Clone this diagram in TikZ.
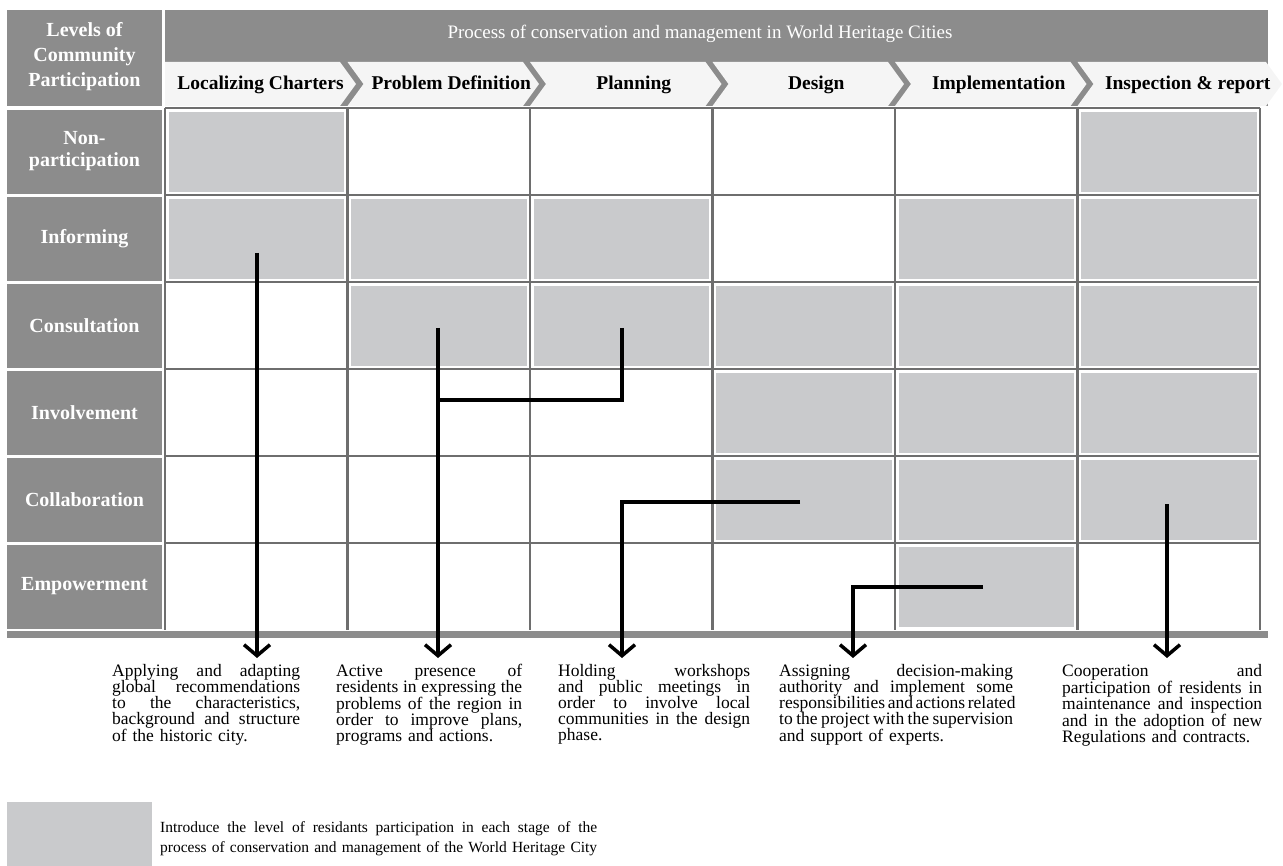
\documentclass[tikz,border=0pt]{standalone}
\usepackage{fontspec}
\setmainfont{Liberation Serif}
\usetikzlibrary{arrows.meta}
\usetikzlibrary{positioning}
\definecolor{hdrgray}{HTML}{8C8C8C}
\definecolor{linegray}{HTML}{6E6E6E}
\definecolor{cellgray}{HTML}{C9CACC}
\definecolor{chevfill}{HTML}{F5F5F5}
% justified line and last line of a note
\newcommand{\jl}[1]{\leavevmode\hbox to \hsize{\spaceskip=0.25em plus 1fil minus 0.1em\relax #1}\par}
\newcommand{\lastln}[1]{\leavevmode\hbox{#1}\par}
\tikzset{
levelbox/.style={ % Sets the labels of the participation levels
text=white,
font=\bfseries\fontsize{20}{22}\selectfont,
align=center},
stage/.style={ % Chevron labels
font=\bfseries\fontsize{19.5}{22}\selectfont,
anchor=base},
cell/.style={fill=cellgray, draw=white, line width=0.8pt},
gridline/.style={draw=linegray, line width=2.5pt},
link/.style={draw, line width=3.5pt},
flow/.style={ % Arrows down to the notes
link,
-{Straight Barb[length=11pt,width=26pt]}},
note/.style={anchor=north west, inner sep=0pt, align=left,
font=\fontsize{17.5}{16}\selectfont}}

\begin{document}
\begin{tikzpicture}[x=1pt, y=-1pt]
	\useasboundingbox (0,0) rectangle (1283,866);
	% header
	\fill[hdrgray] (7,10) rectangle (162,106);
	\fill[hdrgray] (165,10) rectangle (1268,106);
	\node[levelbox, font=\bfseries\fontsize{20}{25}\selectfont] (levels) at (84.5,57) {Levels of\\Community\\Participation};
	\node[text=white, font=\fontsize{19}{21}\selectfont] (title) at (700,34) {Process of conservation and management in World Heritage Cities};
	\foreach \xl/\xr/\nd/\txt [count=\i] in {165/340/0/Localizing Charters, 347.5/523/16/Problem Definition, 530/705.5/16/Planning, 712.5/888/16/Design, 895/1070.5/16/Implementation, 1077.5/1266/16/Inspection \& report}{
		\fill[chevfill] (\xl,62) -- (\xr,62) -- (\xr+16,84) -- (\xr,106) -- (\xl,106) -- (\xl+\nd,84) -- cycle;
		\node[stage] (s\i) at ({(\xl+\nd+\xr+16)/2},89.5) {\txt};
	}
	% levels of participation
	\foreach \lab [count=\i] in {{Non-\\participation}, Informing, Consultation, Involvement, Collaboration, Empowerment}{
		\fill[hdrgray] (7,{108+(\i-1)*87+2}) rectangle (162,{108+\i*87-1});
		\node[levelbox] (lv\i) at (84.5,{108+(\i-1)*87+43.5}) {\lab};
	}
	% shaded cells
	\foreach \r/\c in {1/1,1/6,2/1,2/2,2/3,2/5,2/6,3/2,3/3,3/4,3/5,3/6,4/4,4/5,4/6,5/4,5/5,5/6,6/5}
		\draw[cell] ({165+(\c-1)*182.5+3},{108+(\r-1)*87+3}) rectangle ++(176.5,81);
	\foreach \i in {0,...,6}
		\draw[gridline] ({165+\i*182.5},108) -- ++(0,522);
	\foreach \j in {0,...,5}
		\draw[gridline] (165,{108+\j*87}) -- (1260,{108+\j*87});
	\fill[hdrgray] (7,631) rectangle (1268,638);
	% arrows
	\coordinate (p1) at (257,253);
	\coordinate (p2) at (438,328);
	\coordinate (p3) at (622,328);
	\coordinate (p4) at (800,502);
	\coordinate (p5) at (983,587);
	\coordinate (p6) at (1167,504);
	\coordinate (j2) at (438,400);
	\coordinate (j3) at (622,400);
	\coordinate (e1) at (257,658);
	\coordinate (e2) at (438,658);
	\coordinate (e3) at (622,658);
	\coordinate (e4) at (853,658);
	\coordinate (e5) at (1167,658);
	\draw[flow] (p1) -- (e1);
	\draw[flow] (p2) -- (e2);
	\draw[link] (p3) -- (j3) -- (j2);
	\draw[flow] (p4) -| (e3);
	\draw[flow] (p5) -| (e4);
	\draw[flow] (p6) -- (e5);
	% notes
	\node[note, text width=188pt] (t1) at (112,664) {\jl{Applying and adapting}\jl{global recommendations}\jl{to the characteristics,}\jl{background and structure}\lastln{of the historic city.}};
	\node[note, text width=186pt] (t2) at (336,664) {\jl{Active presence of}\jl{residents in expressing the}\jl{problems of the region in}\jl{order to improve plans,}\lastln{programs and actions.}};
	\node[note, text width=192pt] (t3) at (558,664) {\jl{Holding workshops}\jl{and public meetings in}\jl{order to involve local}\jl{communities in the design}\lastln{phase.}};
	\node[note, text width=234pt] (t4) at (779,664) {\jl{Assigning decision-making}\jl{authority and implement some}\jl{responsibilities and actions related}\jl{to the project with the supervision}\lastln{and support of experts.}};
	\node[note, text width=200pt] (t5) at (1062,664) {\jl{Cooperation and}\jl{participation of residents in}\jl{maintenance and inspection}\jl{and in the adoption of new}\lastln{Regulations and contracts.}};
	% legend
	\fill[cellgray] (7,802) rectangle (152,866);
	\node[note, text width=437pt, font=\fontsize{15.5}{20}\selectfont] (key) at (160,821) {\jl{Introduce the level of residants participation in each stage of the}\jl{process of conservation and management of the World Heritage City}};
\end{tikzpicture}
\end{document}
